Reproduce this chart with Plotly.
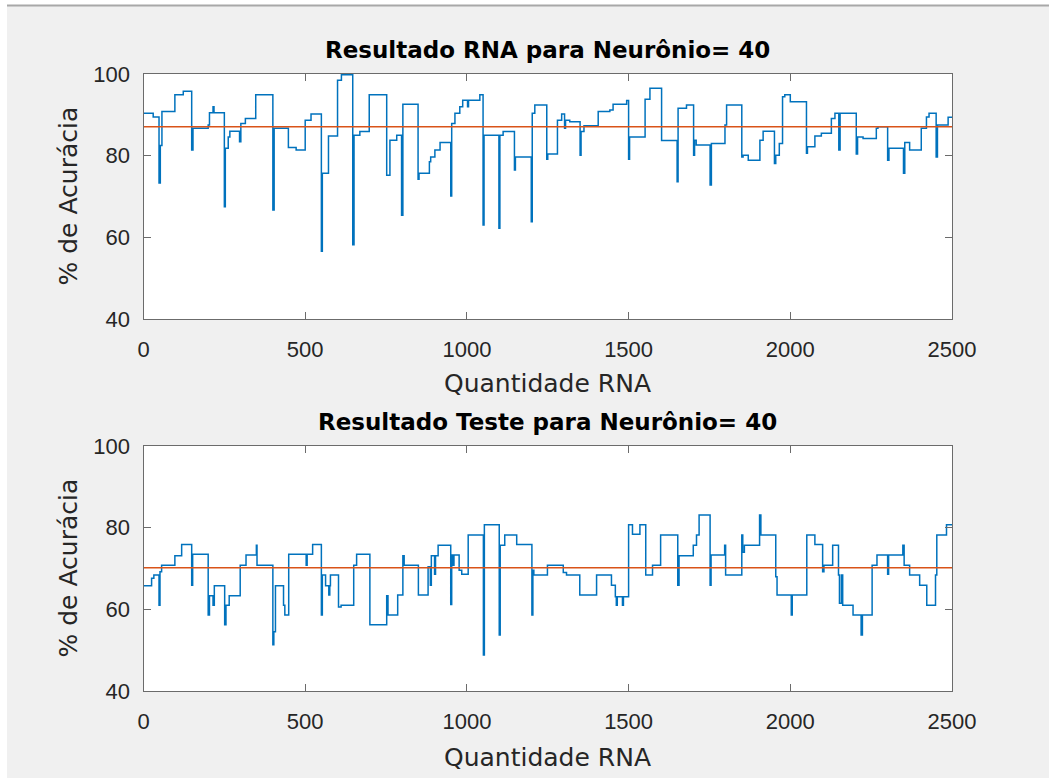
import plotly.graph_objects as go

# ---------------- data (step breakpoints) ----------------
rna_x = [0, 30, 48, 52, 57, 97, 123, 149, 153, 200, 204, 215, 218, 250, 253, 262, 267, 297, 301, 315,
         347, 400, 404, 448, 472, 500, 518, 550, 553, 572, 600, 612, 647, 651, 669, 698, 752, 762, 783,
         798, 802, 849, 852, 884, 888, 901, 917, 950, 953, 963, 978, 987, 1002, 1005, 1040, 1050, 1053,
         1099, 1102, 1112, 1147, 1150, 1199, 1202, 1210, 1247, 1250, 1280, 1293, 1302, 1305, 1318, 1350,
         1353, 1362, 1406, 1442, 1452, 1494, 1500, 1503, 1551, 1566, 1602, 1650, 1653, 1679, 1701, 1704,
         1709, 1752, 1756, 1798, 1803, 1850, 1854, 1870, 1906, 1916, 1951, 1955, 1966, 1976, 1983, 2000,
         2050, 2053, 2076, 2096, 2127, 2138, 2150, 2154, 2204, 2208, 2225, 2266, 2271, 2301, 2305, 2350,
         2354, 2369, 2405, 2421, 2429, 2451, 2455, 2488, 2500]
rna_y = [90.4, 89.5, 73.3, 82.5, 90.8, 94.9, 95.8, 81.4, 86.7, 87.5, 90.5, 92.0, 90.5, 67.5, 81.8, 84.6,
         86.0, 83.4, 87.9, 89.1, 94.9, 66.7, 86.7, 82.0, 81.4, 88.7, 90.2, 56.6, 75.7, 84.8, 98.5, 99.8,
         58.2, 85.0, 85.9, 94.9, 75.2, 83.8, 85.0, 65.4, 92.6, 74.2, 75.7, 78.5, 79.7, 81.4, 83.2, 70.1,
         87.9, 90.4, 92.0, 93.6, 92.0, 93.6, 94.9, 63.0, 85.0, 62.2, 85.0, 85.9, 76.5, 79.7, 63.8, 90.4,
         92.4, 79.1, 80.4, 88.7, 90.2, 86.7, 88.7, 88.3, 80.1, 85.9, 87.3, 90.8, 91.2, 92.6, 93.5, 79.1,
         84.6, 93.8, 96.5, 83.7, 73.6, 91.6, 92.4, 80.1, 83.8, 82.6, 72.8, 83.0, 87.5, 92.4, 79.7, 80.1,
         78.9, 83.8, 86.0, 78.1, 80.1, 83.0, 94.4, 94.9, 93.2, 80.6, 82.2, 84.8, 85.5, 89.1, 90.4, 81.4,
         90.4, 80.4, 84.6, 84.2, 86.7, 87.1, 78.9, 81.8, 75.7, 83.2, 81.4, 86.7, 89.5, 90.4, 79.7, 87.5,
         89.4, 89.4]
rna_mean = 87.1

teste_x = [0, 25, 32, 48, 51, 56, 97, 118, 149, 152, 200, 204, 215, 219, 251, 255, 265, 299, 317, 349,
           351, 400, 403, 408, 433, 437, 449, 503, 506, 523, 550, 553, 563, 573, 576, 578, 603, 611, 650,
           659, 700, 752, 756, 786, 802, 806, 850, 880, 887, 890, 900, 903, 911, 950, 953, 957, 960, 976,
           984, 1004, 1051, 1054, 1100, 1103, 1117, 1154, 1201, 1204, 1207, 1249, 1298, 1308, 1349, 1401,
           1447, 1459, 1462, 1465, 1481, 1484, 1500, 1512, 1535, 1553, 1574, 1599, 1652, 1656, 1700, 1710,
           1718, 1752, 1755, 1797, 1800, 1850, 1853, 1858, 1905, 1909, 1955, 1959, 2003, 2006, 2051, 2076,
           2100, 2104, 2131, 2149, 2152, 2158, 2162, 2194, 2219, 2223, 2253, 2268, 2301, 2304, 2348, 2352,
           2369, 2400, 2422, 2449, 2453, 2483, 2500]
teste_y = [65.8, 67.6, 68.4, 61.0, 69.2, 70.8, 73.1, 75.9, 65.9, 73.5, 58.6, 63.3, 61.0, 65.8, 56.2, 61.0,
           63.3, 70.8, 73.3, 75.7, 70.8, 51.3, 54.5, 65.8, 61.0, 58.6, 73.5, 70.8, 73.5, 75.9, 58.6, 68.4,
           65.8, 63.5, 65.8, 68.4, 60.6, 61.0, 70.8, 73.5, 56.2, 63.3, 58.6, 63.5, 73.1, 70.8, 63.5, 70.4,
           65.9, 73.1, 68.6, 73.1, 75.7, 61.2, 73.3, 70.8, 73.3, 69.6, 68.6, 78.2, 48.8, 80.7, 53.7, 75.7,
           78.2, 75.9, 58.6, 69.6, 68.4, 70.8, 69.0, 68.4, 63.5, 68.4, 65.9, 63.1, 61.0, 63.1, 61.0, 63.1,
           80.7, 78.4, 80.7, 68.4, 70.8, 78.2, 65.9, 73.1, 75.7, 78.2, 83.1, 65.9, 73.3, 75.7, 68.4, 78.2,
           74.0, 75.7, 83.1, 78.2, 68.0, 63.5, 58.6, 63.5, 78.2, 75.9, 69.2, 70.8, 75.7, 68.4, 61.5, 68.4,
           61.0, 58.6, 53.7, 58.6, 70.8, 73.3, 68.6, 73.3, 75.7, 70.8, 68.4, 65.9, 61.0, 68.4, 78.2, 80.7,
           80.7]
teste_mean = 70.2

titles = ["Resultado RNA para Neurônio= 40", "Resultado Teste para Neurônio= 40"]
x_label = "Quantidade RNA"
y_label = "% de Acurácia"
x_ticks = [0, 500, 1000, 1500, 2000, 2500]
y_ticks = [40, 60, 80, 100]

# ---------------- style ----------------
W, H = 1049, 778
BLUE = "#0072BD"
ORANGE = "#D95319"
AX = "#6b6b6b"
TXT = "#262626"
BG = "#F0F0F0"

def px_x(p):
    return p / W

def px_y(p):
    return 1 - p / H

fig = go.Figure()

series = [(rna_x, rna_y, rna_mean, "x", "y"), (teste_x, teste_y, teste_mean, "x2", "y2")]
for xs, ys, m, xa, ya in series:
    fig.add_trace(go.Scatter(x=xs, y=ys, mode="lines", line=dict(color=BLUE, width=1.5, shape="hv"),
                             xaxis=xa, yaxis=ya, showlegend=False, hoverinfo="skip"))
    fig.add_trace(go.Scatter(x=[x_ticks[0], x_ticks[-1]], y=[m, m], mode="lines",
                             line=dict(color=ORANGE, width=1.5), xaxis=xa, yaxis=ya,
                             showlegend=False, hoverinfo="skip"))

xdom = [px_x(143.5), px_x(952)]
common_x = dict(range=[0, 2500], tickvals=x_ticks, ticks="inside", ticklen=7, tickcolor=AX,
                showline=True, linecolor=AX, linewidth=1.2, mirror="allticks", showgrid=False,
                zeroline=False, automargin=False,
                tickfont=dict(family="Liberation Sans, Arial", size=22, color=TXT),
                ticklabelstandoff=10, domain=xdom)
common_y = dict(range=[40, 100], tickvals=y_ticks, ticks="inside", ticklen=7, tickcolor=AX,
                showline=True, linecolor=AX, linewidth=1.2, mirror="allticks", showgrid=False,
                zeroline=False, automargin=False,
                tickfont=dict(family="Liberation Sans, Arial", size=22, color=TXT),
                ticklabelstandoff=8)

fig.update_layout(
    width=W, height=H, margin=dict(l=0, r=0, t=0, b=0, pad=0), autosize=False,
    paper_bgcolor=BG, plot_bgcolor="white",
    xaxis=dict(**common_x, anchor="y"),
    yaxis=dict(**common_y, domain=[px_y(319), px_y(74)], anchor="x"),
    xaxis2=dict(**common_x, anchor="y2"),
    yaxis2=dict(**common_y, domain=[px_y(691), px_y(446)], anchor="x2"),
)

cx = px_x((143.5 + 952) / 2)
ann = []
for t, ty in zip(titles, [50.5, 422]):
    ann.append(dict(text=f"<b>{t}</b>", x=cx, y=px_y(ty), xref="paper", yref="paper",
                    xanchor="center", yanchor="middle", showarrow=False,
                    font=dict(family="DejaVu Sans", size=23, color="black")))
for ty in [383, 757]:
    ann.append(dict(text=x_label, x=cx, y=px_y(ty), xref="paper", yref="paper",
                    xanchor="center", yanchor="middle", showarrow=False,
                    font=dict(family="DejaVu Sans", size=25, color=TXT)))
for ty in [196.5, 568.5]:
    ann.append(dict(text=y_label, x=px_x(68), y=px_y(ty), xref="paper", yref="paper",
                    xanchor="center", yanchor="middle", showarrow=False, textangle=-90,
                    font=dict(family="DejaVu Sans", size=25, color=TXT)))
fig.update_layout(annotations=ann)

# window edge (white strip at left/top, thin gray border line)
fig.update_layout(shapes=[
    dict(type="rect", xref="paper", yref="paper", x0=0, x1=px_x(7), y0=0, y1=1,
         fillcolor="white", line=dict(width=0), layer="below"),
    dict(type="rect", xref="paper", yref="paper", x0=0, x1=1, y0=px_y(5), y1=1,
         fillcolor="white", line=dict(width=0), layer="below"),
    dict(type="line", xref="paper", yref="paper", x0=px_x(7), x1=1, y0=px_y(5.5), y1=px_y(5.5),
         line=dict(color="#a8a8a8", width=2)),
])

fig.write_html("out.html")
